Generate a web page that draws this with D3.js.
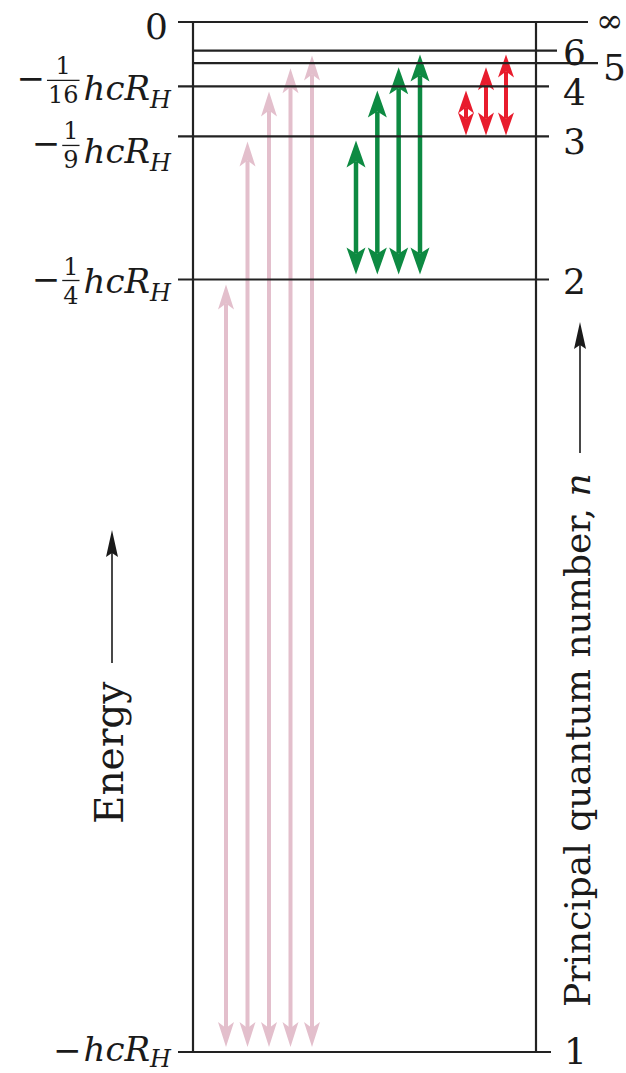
<!DOCTYPE html>
<html><head><meta charset="utf-8">
<script src="https://cdn.jsdelivr.net/npm/d3@7/dist/d3.min.js"></script>
<style>html,body{margin:0;padding:0;background:#fff;} svg{display:block;}</style>
</head><body>
<svg id="chart" width="626" height="1073"></svg>
<script>
// ---------------- DATA ----------------
const levelN      = [1, 2, 3, 4, 5, 6, Infinity];          // principal quantum numbers
const levelLabels = ["1", "2", "3", "4", "5", "6", "\u221E"];
const levelEnergy = [-1, -1/4, -1/9, -1/16, -1/25, -1/36, 0]; // in units of hcR_H
const energyTickDenoms = [16, 9, 4, 1];                      // labelled -1/n^2 hcR_H
const seriesNames  = ["Lyman", "Balmer", "Paschen"];
const seriesLower  = [1, 2, 3];
const seriesUpper  = [[2, 3, 4, 5, 6], [3, 4, 5, 6], [4, 5, 6]];

// ---------------- STYLE / LAYOUT ----------------
const FONT = "'DejaVu Serif', serif";
const LINE = "#222222";
const arrowStyle = [
  {color: "#e3bfcc", width: 4,   w: 16, L: 25, notch: 6, inTop: 5, inBot: 5, xr: [226, 312]},
  {color: "#0d8a42", width: 4.5, w: 19, L: 27, notch: 6, inTop: 4, inBot: 5, xr: [356, 420]},
  {color: "#e81c2d", width: 4,   w: 16, L: 23, notch: 6, inTop: 4, inBot: 1, xr: [466, 506]}
];
const boxLeft = 193, boxRight = 536;
const lineLeft  = {1:178, 2:178, 3:178, 4:178, 5:193, 6:193, Infinity:178};
const lineRight = {1:551, 2:549, 3:549, 4:549, 5:598, 6:557, Infinity:588};
const rightLabelX  = {1:564, 2:563, 3:563, 4:563, 5:603, 6:563, Infinity:596};
const rightLabelDy = {1:12, 2:14, 3:18, 4:19, 5:17, 6:14, Infinity:10};
const rightLabelSize = {1:36, 2:36, 3:36, 4:36, 5:36, 6:36, Infinity:33};
// left label offsets relative to the level line: [fraction bar / minus centre, text baseline]
const leftLabelDy = {16: [-6, 14], 9: [9, 27], 4: [1, 13], 1: [0, 9]};

const svg = d3.select("#chart");
const y = d3.scaleLinear().domain([-1, 0]).range([1052, 22]);
const energyOf = n => levelEnergy[levelN.indexOf(n)];

function headPath(x, tip, w, L, notch, dir) {
  const b = tip + dir * L, m = tip + dir * (L - notch);
  return `M${x},${tip}L${x + w/2},${b}L${x},${m}L${x - w/2},${b}Z`;
}

// ---------------- TRANSITION ARROWS ----------------
seriesNames.forEach((name, i) => {
  const st = arrowStyle[i];
  const ups = seriesUpper[i];
  const x = d3.scaleLinear().domain([0, ups.length - 1]).range(st.xr);
  const arrows = ups.map((u, j) => ({
    x: x(j),
    top: y(energyOf(u)) + st.inTop,
    bot: y(energyOf(seriesLower[i])) - st.inBot
  }));
  const g = svg.append("g").attr("class", "series-" + name);
  g.selectAll("line").data(arrows).join("line")
    .attr("x1", d => d.x).attr("x2", d => d.x)
    .attr("y1", d => d.top + st.L - st.notch).attr("y2", d => d.bot - st.L + st.notch)
    .attr("stroke", st.color).attr("stroke-width", st.width);
  g.selectAll("path.up").data(arrows).join("path").attr("class", "up")
    .attr("d", d => headPath(d.x, d.top, st.w, st.L, st.notch, 1)).attr("fill", st.color);
  g.selectAll("path.dn").data(arrows).join("path").attr("class", "dn")
    .attr("d", d => headPath(d.x, d.bot, st.w, st.L, st.notch, -1)).attr("fill", st.color);
});

// ---------------- LEVEL LINES ----------------
const lv = levelN.map((n, i) => ({n, e: levelEnergy[i], label: levelLabels[i]}));
svg.append("g").selectAll("line").data(lv).join("line")
  .attr("x1", d => lineLeft[d.n]).attr("x2", d => lineRight[d.n])
  .attr("y1", d => y(d.e)).attr("y2", d => y(d.e))
  .attr("stroke", LINE).attr("stroke-width", 2.2);
svg.append("g").selectAll("line").data([boxLeft, boxRight]).join("line")
  .attr("x1", d => d).attr("x2", d => d)
  .attr("y1", y(0) - 1).attr("y2", y(-1) + 1)
  .attr("stroke", LINE).attr("stroke-width", 2.2);

// right labels (n)
svg.append("g").selectAll("text").data(lv).join("text")
  .attr("x", d => rightLabelX[d.n]).attr("y", d => y(d.e) + rightLabelDy[d.n])
  .attr("font-family", FONT).attr("font-size", d => rightLabelSize[d.n]).attr("fill", "#1a1a1a")
  .text(d => d.label);

// ---------------- LEFT ENERGY LABELS ----------------
svg.append("text").attr("x", 168).attr("y", y(0) + 17).attr("text-anchor", "end")
  .attr("font-family", FONT).attr("font-size", 36).attr("fill", "#1a1a1a").text("0");

energyTickDenoms.forEach(den => {
  const ly = y(-1 / den);
  const [cDy, bDy] = leftLabelDy[den];
  const g = svg.append("g").attr("font-family", FONT).attr("fill", "#1a1a1a");
  const t = g.append("text").attr("x", 171).attr("y", ly + bDy).attr("text-anchor", "end")
    .attr("font-size", 34).attr("font-style", "italic");
  t.append("tspan").text("hcR");
  t.append("tspan").attr("font-size", 24).attr("dy", den === 1 ? 6 : 8).text("H");
  let left = t.node().getBBox().x;
  if (den !== 1) {
    const barY = ly + cDy;
    const num = g.append("text").attr("font-size", 24).attr("text-anchor", "middle").text("1");
    const dnm = g.append("text").attr("font-size", 24).attr("text-anchor", "middle").text(String(den));
    const fw = dnm.node().getBBox().width;
    const cx = left - 5 - fw / 2;
    num.attr("x", cx).attr("y", barY - 6);
    dnm.attr("x", cx).attr("y", barY + 23);
    g.append("line").attr("x1", cx - fw/2 - 1).attr("x2", cx + fw/2 + 1)
      .attr("y1", barY).attr("y2", barY).attr("stroke", "#1a1a1a").attr("stroke-width", 1.3);
    left = cx - fw / 2 - 3;
    g.append("text").attr("x", left).attr("y", barY + 10).attr("text-anchor", "end")
      .attr("font-size", 34).text("\u2212");
  } else {
    g.append("text").attr("x", left - 2).attr("y", ly + cDy + 10).attr("text-anchor", "end")
      .attr("font-size", 34).text("\u2212");
  }
});

// ---------------- AXIS TITLES ----------------
function axisArrow(x, y0, y1) {
  svg.append("line").attr("x1", x).attr("x2", x).attr("y1", y0).attr("y2", y1 + 20)
    .attr("stroke", "#1a1a1a").attr("stroke-width", 1.6);
  svg.append("path").attr("d", headPath(x, y1, 12, 27, 4, 1)).attr("fill", "#1a1a1a");
}
svg.append("text").attr("transform", "translate(123,824) rotate(-90)")
  .attr("font-family", FONT).attr("font-size", 39).attr("fill", "#1a1a1a").text("Energy");
axisArrow(112, 663, 530);

const pq = svg.append("text").attr("transform", "translate(590,1007) rotate(-90)")
  .attr("font-family", FONT).attr("font-size", 36).attr("fill", "#1a1a1a");
pq.append("tspan").text("Principal quantum number, ");
pq.append("tspan").attr("font-style", "italic").text("n");
axisArrow(580, 453, 322);
</script>
</body></html>
